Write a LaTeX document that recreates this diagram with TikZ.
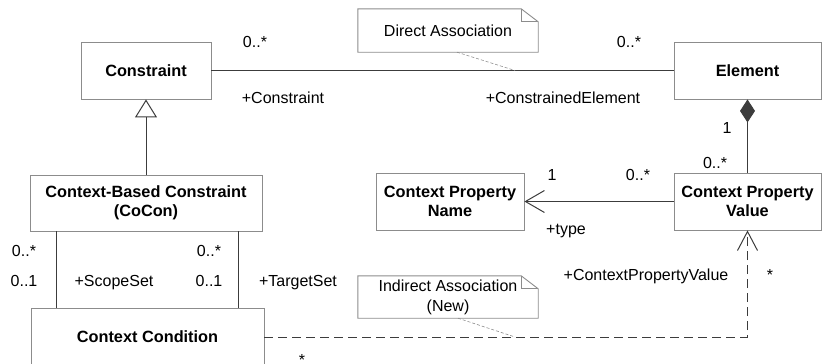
\documentclass[tikz,border=0pt]{standalone}
\usepackage{fontspec}
\setmainfont{Liberation Sans}
\usetikzlibrary{arrows.meta}
\definecolor{boxline}{RGB}{140,140,140}
\definecolor{connline}{RGB}{60,60,60}
\tikzset{
  umlclass/.style={draw=boxline, line width=0.9pt, fill=white, inner sep=0pt,
    align=center, font=\fontsize{16.3}{18.5}\selectfont\bfseries},
  notetext/.style={inner sep=0pt, align=center, font=\fontsize{16}{20}\selectfont},
  notebox/.style={draw=boxline, line width=0.9pt},
  noteanchor/.style={draw=boxline, line width=0.6pt, dash pattern=on 3pt off 2pt},
  lbl/.style={inner sep=0pt, text height=11.5pt, text depth=0pt,
    font=\fontsize{16}{18}\selectfont},
  conn/.style={draw=connline, line width=1pt},
  dashedconn/.style={conn, dash pattern=on 9pt off 5pt},
}
\begin{document}
\begin{tikzpicture}[x=1pt, y=-1pt]
\useasboundingbox (0,0) rectangle (822,364);

% classes
\node[umlclass, minimum width=130pt, minimum height=57pt] (constraint) at (146,70.5) {Constraint};
\node[umlclass, minimum width=147pt, minimum height=57pt] (element) at (747.5,70.5) {Element};
\node[umlclass, minimum width=232pt, minimum height=56pt] (cocon) at (146,203) {Context-Based Constraint\\(CoCon)};
\node[umlclass, minimum width=148pt, minimum height=57pt] (cpname) at (450,201.5) {Context Property\\Name};
\node[umlclass, minimum width=147pt, minimum height=57pt] (cpvalue) at (747.5,201.5) {Context Property\\Value};
\node[umlclass, minimum width=233pt, minimum height=58pt] (condition) at (147.5,337) {Context Condition};

% notes with folded corner
\node[notetext, minimum width=180pt, minimum height=43pt] (dnote) at (448,30.5) {Direct Association};
\draw[notebox] (dnote.north west) -- ([xshift=-17pt]dnote.north east)
  -- ([yshift=-13pt]dnote.north east) -- (dnote.south east)
  -- (dnote.south west) -- cycle;
\draw[notebox] ([xshift=-17pt]dnote.north east) |- ([yshift=-13pt]dnote.north east);

\node[notetext, minimum width=180pt, minimum height=42pt] (inote) at (448,297) {Indirect Association\\(New)};
\draw[notebox] (inote.north west) -- ([xshift=-17pt]inote.north east)
  -- ([yshift=-13pt]inote.north east) -- (inote.south east)
  -- (inote.south west) -- cycle;
\draw[notebox] ([xshift=-17pt]inote.north east) |- ([yshift=-13pt]inote.north east);

% associations
\draw[conn] (constraint.east) -- (element.west);
\draw[conn, -{Triangle[open, length=18pt, width=22pt, fill=white]}] (cocon.north) -- (constraint.south);
\draw[conn] ([xshift=-90pt]cocon.south) -- ([xshift=-90pt]cocon.south |- condition.north);
\draw[conn] ([xshift=92pt]cocon.south) -- ([xshift=92pt]cocon.south |- condition.north);
\draw[conn, -{Diamond[length=23pt, width=15pt]}] (cpvalue.north) -- (element.south);
\draw[conn, -{Straight Barb[length=19pt, width=22pt, line width=1pt]}] (cpvalue.west) -- (cpname.east);
\draw[dashedconn, -{Straight Barb[length=19pt, width=20pt, line width=1pt]}] (condition.east) -| (cpvalue.south);

% note anchors
\coordinate (danchor) at (515,70.5);
\coordinate (ianchor) at (515,337);
\draw[noteanchor] ([xshift=9pt]dnote.south) -- (danchor);
\draw[noteanchor] ([xshift=10pt]inote.south) -- (ianchor);

% role names and multiplicities
\node[lbl] (m1) at (255,42) {0..*};
\node[lbl] (r1) at (283,98) {+Constraint};
\node[lbl] (m2) at (629,42) {0..*};
\node[lbl] (r2) at (563,98) {+ConstrainedElement};
\node[lbl] (m3) at (727,128) {1};
\node[lbl] (m4) at (715,163) {0..*};
\node[lbl] (m5) at (552,175) {1};
\node[lbl] (m6) at (638,175) {0..*};
\node[lbl] (r3) at (566,229) {+type};
\node[lbl] (m7) at (24,251) {0..*};
\node[lbl] (m8) at (24,281) {0..1};
\node[lbl] (r4) at (114,281) {+ScopeSet};
\node[lbl] (m9) at (209,251) {0..*};
\node[lbl] (m10) at (209,281) {0..1};
\node[lbl] (r5) at (298,281) {+TargetSet};
\node[lbl] (m11) at (770,275) {*};
\node[lbl] (r6) at (646,275) {+ContextPropertyValue};
% lowered star so its box stays inside the page
\node[lbl, text height=5.5pt] (m12) at (302,357) {\raisebox{-6pt}{*}};
\end{tikzpicture}
\end{document}
